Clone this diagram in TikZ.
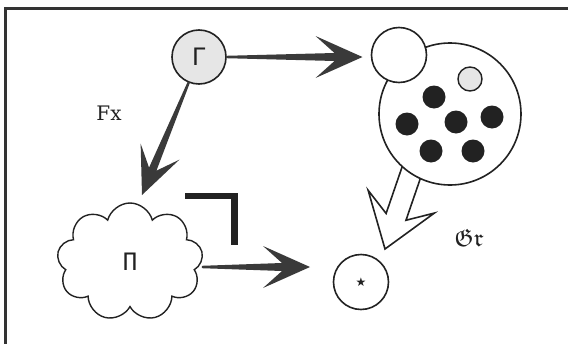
\documentclass[tikz,border=0pt]{standalone}
\usepackage{fontspec}
\usepackage{amssymb}
\usetikzlibrary{calc,shapes.symbols}
\newfontfamily\dvmono{DejaVu Sans Mono}
\newfontfamily\dvsans{DejaVu Sans}
\newfontfamily\dvserif{DejaVu Serif}
\definecolor{ink}{HTML}{222222}
\definecolor{lightg}{HTML}{E6E6E6}
\definecolor{tapercol}{HTML}{3A3A3A}
\definecolor{framecol}{HTML}{333333}
\newcommand\taperarrow[2]{%
  \fill[tapercol] ($(#1)!1.2pt!90:(#2)$) -- ($(#2)!28pt!(#1)!4pt!-90:(#1)$)
    -- ($(#2)!47pt!(#1)!21pt!-90:(#1)$) -- (#2)
    -- ($(#2)!47pt!(#1)!21pt!90:(#1)$) -- ($(#2)!28pt!(#1)!4pt!90:(#1)$)
    -- ($(#1)!1.2pt!-90:(#2)$) -- cycle;}
\begin{document}
\begin{tikzpicture}[x=1pt,y=-1pt,
  circ/.style={circle, draw=ink, line width=1.6pt, inner sep=0pt, outer sep=0pt},
  dot/.style={circle, fill=ink, inner sep=0pt, minimum size=23pt},
  glyph/.style={font=\fontsize{24}{24}\dvmono, text=ink},
  openarrow/.style={draw=ink, line width=1.6pt, fill=white, line join=miter},
  corner/.style={draw=ink, line width=6.5pt, line join=miter}]
\useasboundingbox (0,0) rectangle (568,343);
% frame
\draw[framecol, line width=2.5pt] (5.5,345) -- (5.5,8.3) -- (570,8.3);
% nodes
\node[circ, fill=lightg, minimum size=54pt, glyph] (G) at (199,57) {Γ};
\node[cloud, draw=ink, line width=1.4pt, cloud puffs=9, cloud puff arc=150,
      minimum width=146pt, minimum height=118pt, glyph, inner sep=0pt] (C) at (130,262) {Π};
\node[circ, minimum size=55pt] (S) at (361,282) {};
\node[font=\fontsize{12}{12}\dvsans, text=ink] (st) at (S.center) {★};
% open arrow from big circle to star circle
\coordinate (t4) at ($(S.center)+(24,-33)$);
\begin{scope}[shift={(t4)}, x={(0.325pt,0.946pt)}, y={(0.946pt,-0.325pt)}]
  \draw[openarrow] (0,0) -- (50,35) -- (34,10.5) -- (100,10.5) -- (100,-10.5)
    -- (34,-10.5) -- (50,-35) -- cycle;
\end{scope}
\node[circ, fill=white, minimum size=142pt] (B) at (450,114) {};
\node[circ, fill=white, minimum size=55pt] (R) at (399,55) {};
\node[circ, fill=lightg, minimum size=24pt, line width=1.4pt] (g) at (470,79) {};
\node[dot] (d1) at (434,97) {};
\node[dot] (d2) at (407,124) {};
\node[dot] (d3) at (456,122) {};
\node[dot] (d4) at (492,117) {};
\node[dot] (d5) at (431,151) {};
\node[dot] (d6) at (473,151) {};
% labels
\node[font=\fontsize{20}{20}\dvserif, text=ink] (fx) at (109,113) {Fx};
\node[text=ink] (gr) at (469,238) {\fontsize{24.88}{25}\selectfont$\mathfrak{Gr}$};
% tapered arrows
\coordinate (t1) at ($(R.west)+(-9,2)$);
\taperarrow{G.east}{t1}
\coordinate (t2) at ($(C.center)+(12,-67)$);
\coordinate (a2) at (G.-112);
\taperarrow{a2}{t2}
\coordinate (t3) at ($(S.west)+(-23.5,-15)$);
\coordinate (a3) at (C.east |- t3);
\taperarrow{a3}{t3}
% pullback corner
\draw[corner] (185,196) -- (234.5,196) -- (234.5,245);
\end{tikzpicture}
\end{document}
